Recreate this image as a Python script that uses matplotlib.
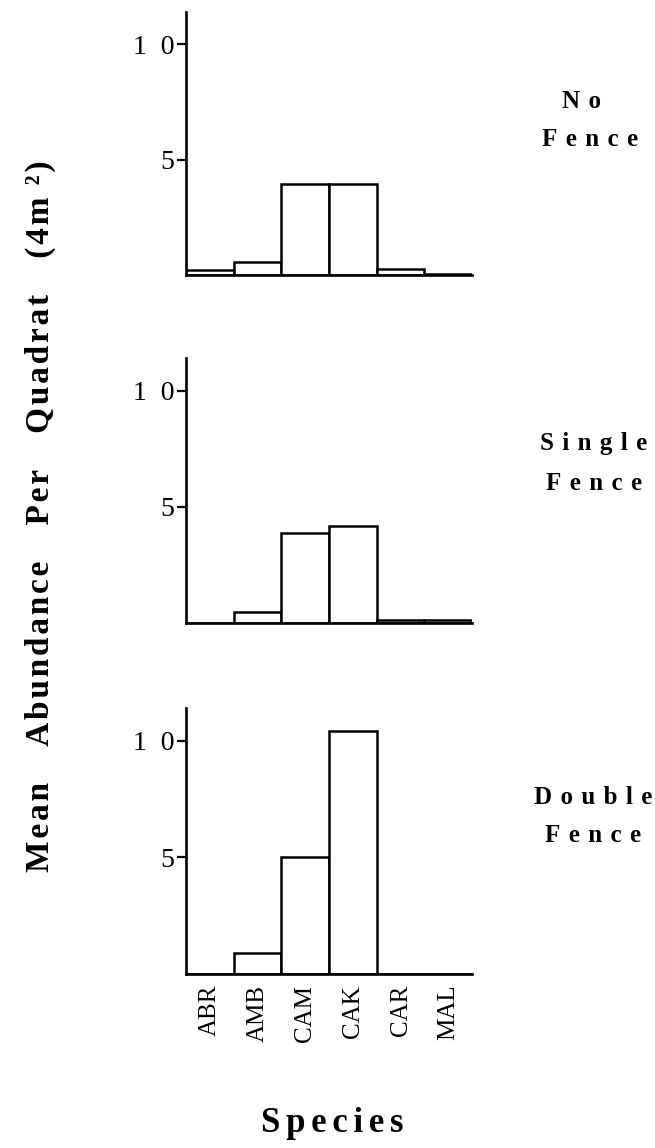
import matplotlib
matplotlib.use("Agg")
import matplotlib.pyplot as plt

species = ["ABR", "AMB", "CAM", "CAK", "CAR", "MAL"]
no_fence = [0.2, 0.55, 3.95, 3.95, 0.25, 0.05]
single_fence = [0.0, 0.47, 3.85, 4.18, 0.1, 0.1]
double_fence = [0.0, 0.88, 5.0, 10.4, 0.0, 0.0]
panel_names = [("No", "Fence"), ("Single", "Fence"), ("Double", "Fence")]
ytick_vals = [5, 10]
ytick_labels = ["5", "1\u20020"]

SERIF = ["Liberation Serif", "DejaVu Serif"]


def spaced(text, gap="\u200a", wordgap="\u2003\u200a"):
    return wordgap.join(gap.join(w) for w in text.split(" "))


fig = plt.figure(figsize=(6.55, 11.48), dpi=100)
W, H = 655.0, 1148.0

# (top px, bottom px) of each panel
panel_px = [(12, 275), (358, 622.7), (708, 973.7)]
left_px, right_px = 186, 472

data = [no_fence, single_fence, double_fence]
label_pos = [
    [(581, 101), (590, 140)],
    [(594, 444), (594, 484)],
    [(593, 797), (593, 836)],
]

for i, (vals, (top, bot)) in enumerate(zip(data, panel_px)):
    ax = fig.add_axes([left_px / W, 1 - bot / H, (right_px - left_px) / W, (bot - top) / H])
    x = list(range(len(species)))
    ax.bar(x, vals, width=1.0, color="white", edgecolor="black", linewidth=1.8, zorder=2)
    ax.set_xlim(-0.5, len(species) - 0.5)
    ax.set_ylim(0, 11.4)
    for s in ["top", "right"]:
        ax.spines[s].set_visible(False)
    for s in ["left", "bottom"]:
        ax.spines[s].set_linewidth(1.9)
        ax.spines[s].set_zorder(3)
    ax.set_yticks(ytick_vals)
    ax.set_yticklabels(ytick_labels, fontfamily=SERIF, fontsize=20)
    ax.tick_params(axis="y", length=6.5, width=1.6, direction="out", pad=2)
    ax.set_xticks(x)
    if i == 2:
        ax.set_xticklabels(species, rotation=90, fontfamily=SERIF, fontsize=18)
        ax.tick_params(axis="x", length=0, pad=8)
    else:
        ax.set_xticklabels([])
        ax.tick_params(axis="x", length=0)
    for (txt, (lx, ly)) in zip(panel_names[i], label_pos[i]):
        fig.text(lx / W, 1 - ly / H, spaced(txt, gap="\u2004"), fontfamily=SERIF,
                 fontweight="bold", fontsize=18, ha="center", va="center")

fig.text(40 / W, 1 - 516 / H, spaced("Mean Abundance Per Quadrat (4m\u2009\u00b2)"),
         fontfamily=SERIF, fontweight="bold", fontsize=24, rotation=90,
         ha="center", va="center")

fig.text(332 / W, 1 - 1124 / H, spaced("Species", gap="\u2006"), fontfamily=SERIF,
         fontweight="bold", fontsize=25, ha="center", va="center")

fig.savefig("out.png", dpi=100)
